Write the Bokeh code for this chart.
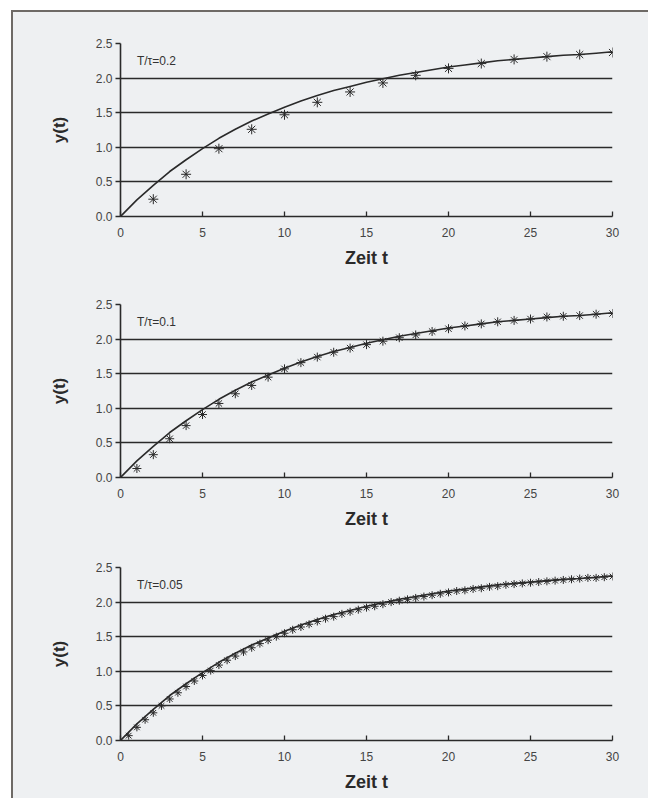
from bokeh.plotting import figure
from bokeh.layouts import column
from bokeh.models import Label, FixedTicker, NumeralTickFormatter
from bokeh.embed import file_html
from bokeh.resources import INLINE

# ---- data ----
# continuous response (same curve in all three panels)
curve_t = list(range(0, 31))
curve_y = [0.00, 0.24, 0.45, 0.65, 0.82, 0.98, 1.13, 1.26, 1.38, 1.48,
           1.58, 1.67, 1.75, 1.82, 1.88, 1.94, 1.99, 2.04, 2.08, 2.12,
           2.16, 2.19, 2.22, 2.25, 2.27, 2.29, 2.31, 2.33, 2.34, 2.36, 2.38]

# discrete response, T/tau = 0.2 (step 2)
t_02 = [0, 2, 4, 6, 8, 10, 12, 14, 16, 18, 20, 22, 24, 26, 28, 30]
y_02 = [0.00, 0.25, 0.61, 0.98, 1.26, 1.47, 1.65, 1.80, 1.93, 2.04,
        2.14, 2.21, 2.27, 2.31, 2.34, 2.37]

# discrete response, T/tau = 0.1 (step 1)
t_01 = list(range(0, 31))
y_01 = [0.00, 0.13, 0.33, 0.56, 0.75, 0.91, 1.07, 1.21, 1.33, 1.45,
        1.57, 1.66, 1.74, 1.81, 1.87, 1.92, 1.97, 2.02, 2.06, 2.11,
        2.15, 2.19, 2.22, 2.25, 2.27, 2.29, 2.32, 2.33, 2.34, 2.36, 2.37]

# discrete response, T/tau = 0.05 (step 0.5)
t_005 = [i * 0.5 for i in range(61)]
y_005 = [0.00, 0.07, 0.19, 0.30, 0.40, 0.50, 0.60, 0.69, 0.78, 0.86,
         0.94, 1.01, 1.09, 1.16, 1.22, 1.28, 1.34, 1.40, 1.45, 1.50,
         1.55, 1.60, 1.64, 1.68, 1.72, 1.76, 1.79, 1.83, 1.86, 1.89,
         1.92, 1.94, 1.97, 2.00, 2.02, 2.04, 2.06, 2.08, 2.10, 2.12,
         2.14, 2.16, 2.17, 2.19, 2.20, 2.22, 2.23, 2.25, 2.26, 2.27,
         2.28, 2.29, 2.30, 2.31, 2.32, 2.33, 2.34, 2.35, 2.35, 2.36, 2.37]

panel_labels = ["T/\u03c4=0.2", "T/\u03c4=0.1", "T/\u03c4=0.05"]
x_ticks = [0, 5, 10, 15, 20, 25, 30]
y_ticks = [0.0, 0.5, 1.0, 1.5, 2.0, 2.5]
x_title = "Zeit t"
y_title = "y(t)"

BG = "#eef0f2"
INK = "#2a2a2a"
FONT = "Liberation Sans"


def make_panel(t_pts, y_pts, label, top, marker_size):
    frame_h = 173
    p = figure(frame_width=492, frame_height=frame_h,
               min_border_left=107, min_border_right=36,
               min_border_top=top, min_border_bottom=262 - frame_h - top,
               x_range=(0, 30), y_range=(0, 2.5),
               output_backend="svg", toolbar_location=None)
    p.background_fill_color = BG
    p.border_fill_color = BG
    p.outline_line_color = None

    p.xgrid.grid_line_color = None
    p.ygrid.grid_line_color = INK
    p.ygrid.grid_line_width = 1.6
    p.ygrid.ticker = FixedTicker(ticks=y_ticks)

    p.xaxis.ticker = FixedTicker(ticks=x_ticks)
    p.yaxis.ticker = FixedTicker(ticks=y_ticks)
    p.yaxis.formatter = NumeralTickFormatter(format="0.0")

    for ax in (p.xaxis[0], p.yaxis[0]):
        ax.axis_line_color = INK
        ax.axis_line_width = 1.6
        ax.major_tick_line_color = INK
        ax.major_tick_line_width = 1.3
        ax.minor_tick_line_color = None
        ax.major_label_text_font = FONT
        ax.major_label_text_font_size = "12px"
        ax.major_label_text_color = "#444444"
        ax.axis_label_text_font = FONT
        ax.axis_label_text_font_style = "bold"
        ax.axis_label_text_color = INK

    p.xaxis.major_tick_in = 5
    p.xaxis.major_tick_out = 0
    p.xaxis.major_label_standoff = 11
    p.xaxis.axis_label = x_title
    p.xaxis.axis_label_text_font_size = "18px"
    p.xaxis.axis_label_standoff = 8

    p.yaxis.major_tick_in = 0
    p.yaxis.major_tick_out = 5
    p.yaxis.major_label_standoff = 3
    p.yaxis.axis_label = y_title
    p.yaxis.axis_label_text_font_size = "17px"
    p.yaxis.axis_label_standoff = 24

    p.line(curve_t, curve_y, line_color=INK, line_width=1.6)
    p.scatter(t_pts, y_pts, marker="asterisk", size=marker_size,
              line_color=INK, line_width=1.0)

    p.add_layout(Label(x=1.0, y=2.25, text=label, text_font=FONT,
                       text_font_size="12px", text_color="#333333",
                       text_baseline="middle"))
    return p


p1 = make_panel(t_02, y_02, panel_labels[0], 31, 10)
p2 = make_panel(t_01, y_01, panel_labels[1], 30, 9)
p3 = make_panel(t_005, y_005, panel_labels[2], 31, 8)

layout = column(p1, p2, p3, spacing=0, margin=(10, 0, 0, 11),
                styles={"border-left": "2px solid #6e6a66",
                        "border-top": "2px solid #6e6a66",
                        "background-color": BG})

open("out.html", "w").write(file_html(layout, INLINE))
